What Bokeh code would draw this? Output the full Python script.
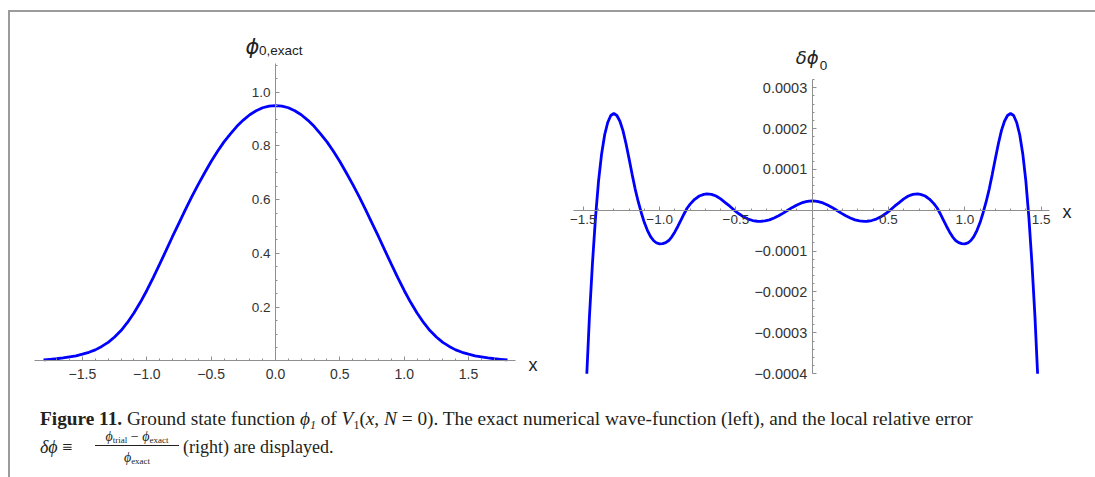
from bokeh.plotting import figure
from bokeh.models import FixedTicker, CustomJSTickFormatter, Label, Div, Range1d, Spacer
from bokeh.layouts import row, column
from bokeh.embed import file_html
from bokeh.resources import INLINE

# ---------------- data ----------------
x_exact = [-1.8, -1.75, -1.7, -1.65, -1.6, -1.55, -1.5, -1.45, -1.4, -1.35, -1.3, -1.25,
           -1.2, -1.15, -1.1, -1.05, -1.0, -0.95, -0.9, -0.85, -0.8, -0.75, -0.7, -0.65,
           -0.6, -0.55, -0.5, -0.45, -0.4, -0.35, -0.3, -0.25, -0.2, -0.15, -0.1, -0.05,
           0.0, 0.05, 0.1, 0.15, 0.2, 0.25, 0.3, 0.35, 0.4, 0.45, 0.5, 0.55, 0.6, 0.65,
           0.7, 0.75, 0.8, 0.85, 0.9, 0.95, 1.0, 1.05, 1.1, 1.15, 1.2, 1.25, 1.3, 1.35,
           1.4, 1.45, 1.5, 1.55, 1.6, 1.65, 1.7, 1.75, 1.8]
phi_exact = [0.004, 0.006, 0.008, 0.011, 0.015, 0.019, 0.025, 0.032, 0.041, 0.054, 0.069,
             0.089, 0.113, 0.143, 0.178, 0.218, 0.262, 0.310, 0.360, 0.411, 0.463, 0.513,
             0.563, 0.611, 0.657, 0.700, 0.742, 0.780, 0.815, 0.845, 0.873, 0.896, 0.916,
             0.931, 0.942, 0.948, 0.950, 0.948, 0.942, 0.931, 0.916, 0.896, 0.873, 0.845,
             0.815, 0.780, 0.742, 0.700, 0.657, 0.611, 0.563, 0.513, 0.463, 0.411, 0.360,
             0.310, 0.262, 0.218, 0.178, 0.143, 0.113, 0.089, 0.069, 0.054, 0.041, 0.032,
             0.025, 0.019, 0.015, 0.011, 0.008, 0.006, 0.004]

x_err = [-1.477, -1.46, -1.44, -1.42, -1.40, -1.38, -1.36, -1.34, -1.32, -1.30, -1.28, -1.26,
         -1.24, -1.22, -1.20, -1.18, -1.16, -1.14, -1.12, -1.10, -1.08, -1.06, -1.04, -1.02,
         -1.00, -0.98, -0.96, -0.94, -0.92, -0.90, -0.88, -0.86, -0.84, -0.82, -0.80, -0.77,
         -0.74, -0.71, -0.69, -0.66, -0.63, -0.60, -0.57, -0.54, -0.51, -0.48, -0.45, -0.42,
         -0.39, -0.36, -0.34, -0.31, -0.28, -0.25, -0.22, -0.19, -0.16, -0.13, -0.10, -0.07,
         -0.04, -0.02, 0.00, 0.02, 0.04, 0.07, 0.10, 0.13, 0.16, 0.19, 0.22, 0.25, 0.28,
         0.31, 0.34, 0.36, 0.39, 0.42, 0.45, 0.48, 0.51, 0.54, 0.57, 0.60, 0.63, 0.66, 0.69,
         0.71, 0.74, 0.77, 0.80, 0.82, 0.84, 0.86, 0.88, 0.90, 0.92, 0.94, 0.96, 0.98, 1.00,
         1.02, 1.04, 1.06, 1.08, 1.10, 1.12, 1.14, 1.16, 1.18, 1.20, 1.22, 1.24, 1.26, 1.28,
         1.30, 1.32, 1.34, 1.36, 1.38, 1.40, 1.42, 1.44, 1.46, 1.477]
dphi = [-4.00e-4, -2.62e-4, -1.30e-4, -0.18e-4, 0.72e-4, 1.38e-4, 1.85e-4, 2.15e-4, 2.32e-4,
        2.37e-4, 2.32e-4, 2.18e-4, 1.95e-4, 1.63e-4, 1.26e-4, 0.88e-4, 0.52e-4, 0.21e-4,
        -0.06e-4, -0.30e-4, -0.49e-4, -0.64e-4, -0.74e-4, -0.80e-4, -0.82e-4, -0.815e-4,
        -0.79e-4, -0.74e-4, -0.65e-4, -0.53e-4, -0.39e-4, -0.24e-4, -0.09e-4, 0.05e-4,
        0.15e-4, 0.27e-4, 0.35e-4, 0.39e-4, 0.40e-4, 0.39e-4, 0.35e-4, 0.28e-4, 0.19e-4,
        0.10e-4, 0.00e-4, -0.085e-4, -0.16e-4, -0.215e-4, -0.25e-4, -0.268e-4, -0.27e-4,
        -0.26e-4, -0.235e-4, -0.19e-4, -0.135e-4, -0.07e-4, 0.00e-4, 0.07e-4, 0.13e-4,
        0.18e-4, 0.21e-4, 0.225e-4, 0.23e-4, 0.225e-4, 0.21e-4, 0.18e-4, 0.13e-4, 0.07e-4,
        0.00e-4, -0.07e-4, -0.135e-4, -0.19e-4, -0.235e-4, -0.26e-4, -0.27e-4, -0.268e-4,
        -0.25e-4, -0.215e-4, -0.16e-4, -0.085e-4, 0.00e-4, 0.10e-4, 0.19e-4, 0.28e-4,
        0.35e-4, 0.39e-4, 0.40e-4, 0.39e-4, 0.35e-4, 0.27e-4, 0.15e-4, 0.05e-4, -0.09e-4,
        -0.24e-4, -0.39e-4, -0.53e-4, -0.65e-4, -0.74e-4, -0.79e-4, -0.815e-4, -0.82e-4,
        -0.80e-4, -0.74e-4, -0.64e-4, -0.49e-4, -0.30e-4, -0.06e-4, 0.21e-4, 0.52e-4,
        0.88e-4, 1.26e-4, 1.63e-4, 1.95e-4, 2.18e-4, 2.32e-4, 2.37e-4, 2.32e-4, 2.15e-4,
        1.85e-4, 1.38e-4, 0.72e-4, -0.18e-4, -1.30e-4, -2.62e-4, -4.00e-4]

left_x_ticks = [-1.5, -1.0, -0.5, 0.0, 0.5, 1.0, 1.5]
left_y_ticks = [0.2, 0.4, 0.6, 0.8, 1.0]
right_x_ticks = [-1.5, -1.0, -0.5, 0.5, 1.0, 1.5]
right_y_ticks = [-0.0004, -0.0003, -0.0002, -0.0001, 0.0001, 0.0002, 0.0003]

AXIS = "#8f8f8f"
LABEL = "#333333"
TITLE = "#222222"
BLUE = "#0000ff"
TICKFONT = "Liberation Sans"


def fmt(digits):
    return CustomJSTickFormatter(code=(
        "return (tick < 0 ? '\u2212' : '') + Math.abs(tick).toFixed(%d);" % digits))


def minor(lo, hi, step):
    n = int(round((hi - lo) / step))
    return [round(lo + i * step, 8) for i in range(n + 1)]


def style(p, xt, xminor, xd, xb, xfs, xso, yt, yminor, yd, yb, yfs):
    p.xgrid.visible = False
    p.ygrid.visible = False
    p.outline_line_color = None
    p.xaxis.ticker = FixedTicker(ticks=xt, minor_ticks=xminor)
    p.yaxis.ticker = FixedTicker(ticks=yt, minor_ticks=yminor)
    p.xaxis.formatter = fmt(xd)
    p.yaxis.formatter = fmt(yd)
    p.xaxis[0].bounds = xb
    p.yaxis[0].bounds = yb
    p.xaxis[0].major_label_text_font_size = xfs
    p.yaxis[0].major_label_text_font_size = yfs
    p.xaxis[0].major_label_standoff = xso
    p.yaxis[0].major_label_standoff = 5
    for ax in (p.xaxis[0], p.yaxis[0]):
        ax.fixed_location = 0
        ax.axis_line_color = AXIS
        ax.axis_line_width = 1
        ax.major_tick_line_color = AXIS
        ax.minor_tick_line_color = AXIS
        ax.major_tick_in = 4
        ax.major_tick_out = 0
        ax.minor_tick_in = 2
        ax.minor_tick_out = 0
        ax.major_label_text_font = TICKFONT
        ax.major_label_text_color = LABEL


# ---------------- left plot (frame fills the figure; axis bounds give the axes' extent) ----
p1 = figure(width=535, height=373, title=None, toolbar_location=None, output_backend="svg",
            x_range=Range1d(-2.059, 2.098), y_range=Range1d(-0.0915, 1.2964),
            min_border=0, background_fill_color="white", border_fill_color="white")
style(p1, left_x_ticks, minor(-1.8, 1.8, 0.1), 1, (-1.873, 1.865), "14px", 8,
      left_y_ticks, minor(0.05, 1.1, 0.05), 1, (0, 1.107), "13.5px")
p1.line(x_exact, phi_exact, line_color=BLUE, line_width=2.8)
p1.add_layout(Label(x=1.965, y=-0.017, text="x", text_font=TICKFONT, text_font_size="18px",
                    text_color=TITLE, text_baseline="middle", text_align="left"))
p1.add_layout(Label(x=-0.125, y=1.168, text="\u03d5", text_font="DejaVu Sans",
                    text_font_style="italic", text_font_size="21px", text_color=TITLE,
                    text_align="right", text_baseline="alphabetic"))
p1.add_layout(Label(x=-0.128, y=1.155, text="0,exact", text_font=TICKFONT,
                    text_font_size="13.5px", text_color=TITLE,
                    text_align="left", text_baseline="alphabetic"))

# ---------------- right plot ----------------
p2 = figure(width=550, height=373, title=None, toolbar_location=None, output_backend="svg",
            x_range=Range1d(-1.7477, 1.8565), y_range=Range1d(-4.289e-4, 4.842e-4),
            min_border=0, background_fill_color="white", border_fill_color="white")
style(p2, right_x_ticks, minor(-1.5, 1.5, 0.1), 1, (-1.5642, 1.555), "13.5px", 5,
      right_y_ticks, minor(-0.0004, 0.00032, 0.00002), 4, (-0.0004, 0.000321), "14.5px")
p2.line(x_err, dphi, line_color=BLUE, line_width=2.8)
p2.add_layout(Label(x=1.64, y=-0.000005, text="x", text_font=TICKFONT, text_font_size="18px",
                    text_color=TITLE, text_baseline="middle", text_align="left"))
p2.add_layout(Label(x=0.042, y=3.73e-4, text="\u03b4\u03d5", text_font="DejaVu Sans",
                    text_font_style="italic", text_font_size="18px", text_color=TITLE,
                    text_align="right", text_baseline="alphabetic"))
p2.add_layout(Label(x=0.050, y=3.54e-4, text="0", text_font=TICKFONT,
                    text_font_size="13.5px", text_color=TITLE,
                    text_align="left", text_baseline="alphabetic"))

# ---------------- caption & frame ----------------
C = "#231f20"


def sub(t, fs, shift):
    return "<span style='font-size:%dpx; position:relative; top:%dpx;'>%s</span>" % (
        fs, shift, t)


caption_html = (
    "<div style=\"position:relative; width:1085px; height:92px; font-family:'Liberation Serif'; "
    "color:%s; white-space:nowrap;\">" % C +
    "<div style='position:absolute; left:30px; top:24px; font-size:19.3px; line-height:19px;'>"
    "<b>Figure 11.</b> Ground state function <i>\u03d5" + sub("1", 12, 4) + "</i> of "
    "<i>V</i>" + sub("1", 12, 4) + "(<i>x</i>, <i>N</i> = 0). "
    "The exact numerical wave-function (left), and the local relative error</div>"
    "<div style='position:absolute; left:30px; top:53px; font-size:18px; line-height:18px;'>"
    "<i>\u03b4\u03d5</i> \u2261</div>"
    "<div style='position:absolute; left:85px; top:45px; width:84px; height:16px; "
    "text-align:center; font-size:14px; line-height:13px; "
    "border-bottom:1px solid %s;'>" % C +
    "<i>\u03d5</i>" + sub("trial", 9, 2) + " \u2212 <i>\u03d5</i>" + sub("exact", 9, 2) +
    "</div>"
    "<div style='position:absolute; left:85px; top:66px; width:84px; text-align:center; "
    "font-size:14px; line-height:14px;'>"
    "<i>\u03d5</i>" + sub("exact", 9, 2) + "</div>"
    "<div style='position:absolute; left:173px; top:53px; font-size:18px; line-height:18px;'>"
    "(right) are displayed.</div>"
    "</div>"
)
caption = Div(text=caption_html, width=1085, height=92, margin=(0, 0, 0, 0))

FRAME = "#9b9b9b"
top_line = Div(text="", width=1087, height=2, margin=(0, 0, 0, 0),
               styles={"background-color": FRAME})
left_line = Div(text="", width=2, height=465, margin=(0, 0, 0, 0),
                styles={"background-color": FRAME})

layout = column(Spacer(width=10, height=10),
                row(Spacer(width=8, height=10),
                    column(top_line, row(left_line, column(row(p1, p2), caption)))))

open("out.html", "w").write(file_html(layout, INLINE))
